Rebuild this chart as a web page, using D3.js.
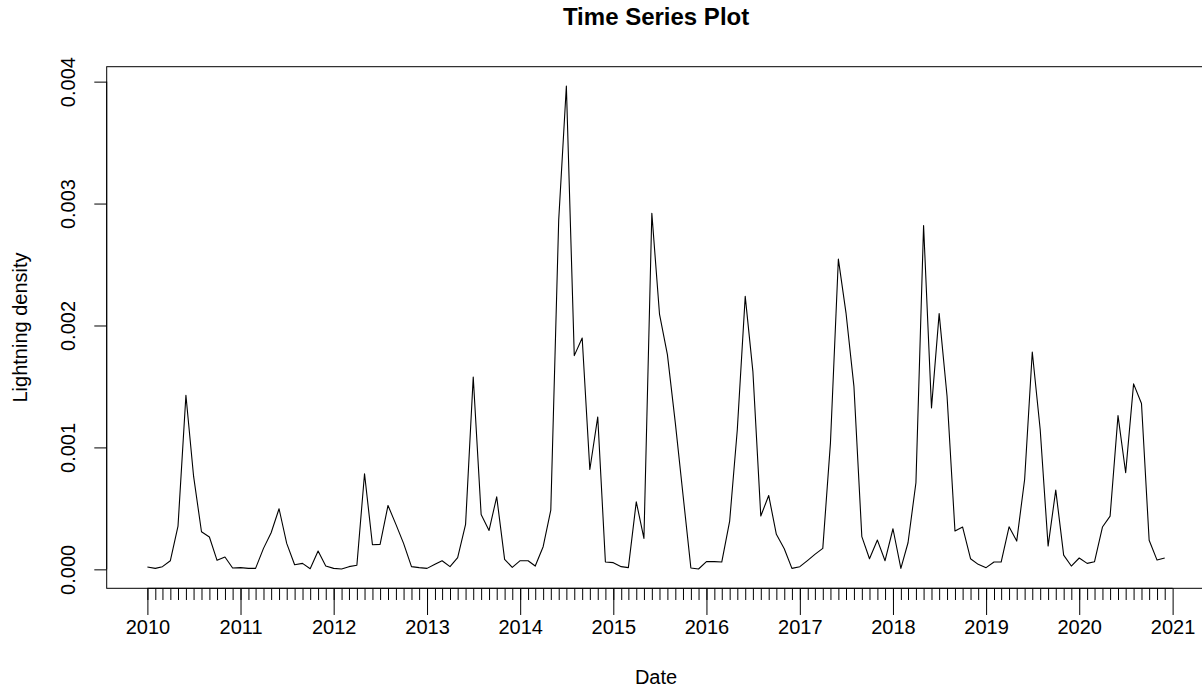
<!DOCTYPE html>
<html>
<head>
<meta charset="utf-8">
<script src="https://cdn.jsdelivr.net/npm/d3@7/dist/d3.min.js"></script>
<style>
  html, body { margin: 0; padding: 0; background: #fff; }
  svg { display: block; }
  text { font-family: "Liberation Sans", Arial, Helvetica, sans-serif; fill: #000; }
</style>
</head>
<body>
<svg id="chart" width="1202" height="687"></svg>
<script>
// ---- data: monthly lightning density, Jan 2010 .. Dec 2020 ----
const startYear = 2010;
const startMonth = 0; // January
const density = [
  // 2010
  0.000019, 0.000008, 0.000022, 0.000071, 0.000355, 0.001428, 0.000764, 0.000308, 0.000265, 0.000074, 0.000101, 0.000011,
  // 2011
  0.000014, 0.000008, 0.000008, 0.000172, 0.000300, 0.000497, 0.000213, 0.000038, 0.000049, 0.000005, 0.000150, 0.000027,
  // 2012
  0.000008, 0.000003, 0.000022, 0.000033, 0.000784, 0.000202, 0.000205, 0.000524, 0.000369, 0.000213, 0.000022, 0.000014,
  // 2013
  0.000008, 0.000041, 0.000071, 0.000022, 0.000096, 0.000369, 0.001578, 0.000450, 0.000319, 0.000595, 0.000082, 0.000016,
  // 2014
  0.000071, 0.000071, 0.000027, 0.000186, 0.000486, 0.002866, 0.003964, 0.001753, 0.001897, 0.000819, 0.001250, 0.000060,
  // 2015
  0.000055, 0.000022, 0.000014, 0.000554, 0.000254, 0.002921, 0.002094, 0.001761, 0.001201, 0.000614, 0.000011, 0.000003,
  // 2016
  0.000063, 0.000063, 0.000060, 0.000396, 0.001147, 0.002239, 0.001624, 0.000437, 0.000606, 0.000287, 0.000169, 0.000008,
  // 2017
  0.000022, 0.000074, 0.000123, 0.000172, 0.001037, 0.002544, 0.002102, 0.001501, 0.000268, 0.000087, 0.000240, 0.000071,
  // 2018
  0.000333, 0.000008, 0.000218, 0.000710, 0.002820, 0.001324, 0.002097, 0.001420, 0.000314, 0.000347, 0.000087, 0.000041,
  // 2019
  0.000014, 0.000060, 0.000060, 0.000349, 0.000232, 0.000737, 0.001783, 0.001147, 0.000191, 0.000650, 0.000117, 0.000027,
  // 2020
  0.000093, 0.000049, 0.000063, 0.000347, 0.000437, 0.001261, 0.000792, 0.001521, 0.001360, 0.000238, 0.000076, 0.000093
];
const yTickValues = [0, 0.001, 0.002, 0.003, 0.004];
const yearTicks = [2010, 2011, 2012, 2013, 2014, 2015, 2016, 2017, 2018, 2019, 2020, 2021];
const titleText = "Time Series Plot";
const xLabel = "Date";
const yLabel = "Lightning density";

// ---- build rows ----
const rows = density.map((v, i) => ({
  date: new Date(Date.UTC(startYear, startMonth + i, 1)),
  value: v
}));

// ---- layout (R base-graphics like) ----
const W = 1202, H = 687;
const plotLeft = 106.7, plotRight = 1205.4, plotTop = 66.7, plotBottom = 588.3;

const svg = d3.select("#chart");

// R pads data range by 4% on each side
const tExt = d3.extent(rows, d => d.date.getTime());
const tPad = (tExt[1] - tExt[0]) * 0.04;
const x = d3.scaleUtc()
  .domain([new Date(tExt[0] - tPad), new Date(tExt[1] + tPad)])
  .range([plotLeft, plotRight]);

const vExt = d3.extent(rows, d => d.value);
const vPad = (vExt[1] - vExt[0]) * 0.04;
const y = d3.scaleLinear()
  .domain([vExt[0] - vPad, vExt[1] + vPad])
  .range([plotBottom, plotTop]);

// ---- line ----
const line = d3.line().x(d => x(d.date)).y(d => y(d.value));
svg.append("path")
  .datum(rows)
  .attr("d", line)
  .attr("fill", "none")
  .attr("stroke", "#000")
  .attr("stroke-width", 1.1)
  .attr("stroke-linejoin", "round");

// ---- box ----
svg.append("rect")
  .attr("x", plotLeft).attr("y", plotTop)
  .attr("width", plotRight - plotLeft).attr("height", plotBottom - plotTop)
  .attr("fill", "none").attr("stroke", "#000").attr("stroke-width", 1);

// ---- x axis: monthly minor ticks ----
const monthTicks = rows.map(d => d.date);
const xMinor = d3.axisBottom(x)
  .tickValues(monthTicks)
  .tickSize(11.7)
  .tickFormat("");
const gMinor = svg.append("g").attr("transform", `translate(0,${plotBottom})`).call(xMinor);
gMinor.select(".domain").remove();
gMinor.selectAll(".tick line").attr("stroke", "#000").attr("stroke-width", 1);

// ---- x axis: yearly major ticks with labels ----
const yearDates = yearTicks.map(yr => new Date(Date.UTC(yr, 0, 1)));
const xMajor = d3.axisBottom(x)
  .tickValues(yearDates)
  .tickSize(26.7)
  .tickFormat(d3.utcFormat("%Y"));
const gMajor = svg.append("g").attr("transform", `translate(0,${plotBottom})`).call(xMajor);
gMajor.select(".domain")
  .attr("d", `M${x(yearDates[0])},0H${x(yearDates[yearDates.length - 1])}`)
  .attr("stroke", "#000");
gMajor.selectAll(".tick line").attr("stroke", "#000").attr("stroke-width", 1);
gMajor.selectAll(".tick text")
  .attr("y", 45.7).attr("dy", 0)
  .attr("font-size", 20)
  .attr("font-family", "Liberation Sans, Arial, sans-serif")
  .attr("fill", "#000");

// ---- y axis ----
const yAxis = d3.axisLeft(y)
  .tickValues(yTickValues)
  .tickSize(12.4)
  .tickFormat(d3.format(".3f"));
const gY = svg.append("g").attr("transform", `translate(${plotLeft},0)`).call(yAxis);
gY.select(".domain")
  .attr("d", `M0,${y(yTickValues[0])}V${y(yTickValues[yTickValues.length - 1])}`)
  .attr("stroke", "#000");
gY.selectAll(".tick line").attr("stroke", "#000").attr("stroke-width", 1);
gY.selectAll(".tick text")
  .attr("x", 0).attr("y", -31.7).attr("dy", 0)
  .attr("transform", "rotate(-90)")
  .attr("text-anchor", "middle")
  .attr("font-size", 20)
  .attr("font-family", "Liberation Sans, Arial, sans-serif")
  .attr("fill", "#000");

// ---- titles ----
const cx = (plotLeft + plotRight) / 2;
svg.append("text")
  .attr("x", cx).attr("y", 25)
  .attr("text-anchor", "middle")
  .attr("font-size", 24).attr("font-weight", "bold")
  .text(titleText);

svg.append("text")
  .attr("x", cx).attr("y", 683.5)
  .attr("text-anchor", "middle")
  .attr("font-size", 20)
  .text(xLabel);

svg.append("text")
  .attr("transform", `translate(27,${(plotTop + plotBottom) / 2}) rotate(-90)`)
  .attr("text-anchor", "middle")
  .attr("font-size", 20)
  .text(yLabel);
</script>
</body>
</html>
